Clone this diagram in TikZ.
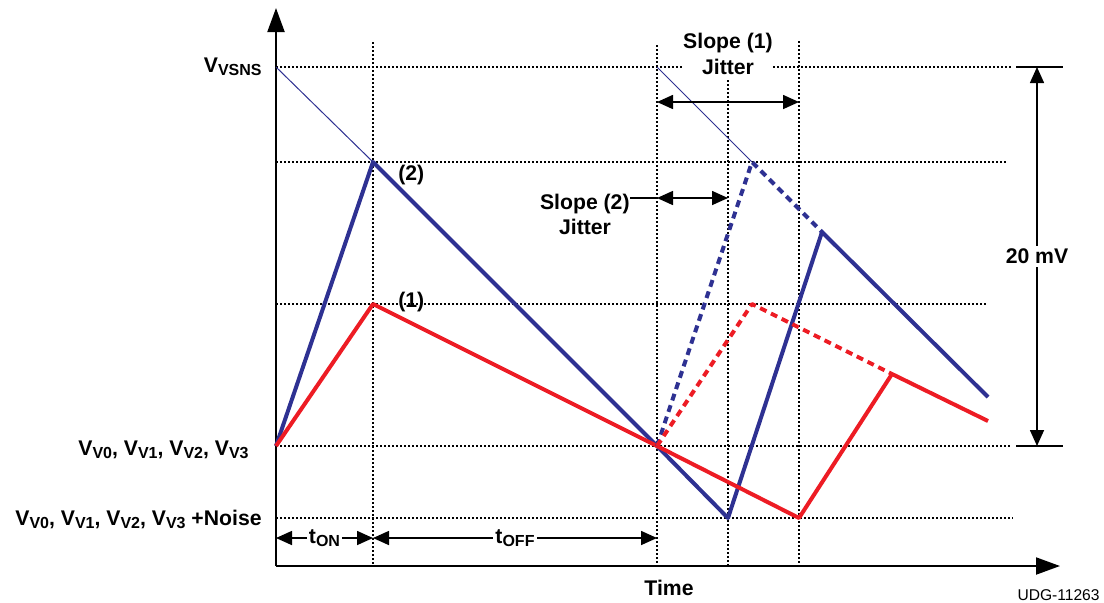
\documentclass[tikz,border=0pt]{standalone}
\usepackage{fontspec}
\setmainfont{Liberation Sans}
\usetikzlibrary{arrows.meta, positioning}
\definecolor{wblue}{RGB}{46,49,146}
\definecolor{wred}{RGB}{237,28,36}
\newcommand{\lo}[1]{\raisebox{-1.6pt}{\fontsize{8pt}{9pt}\selectfont #1}}

\begin{document}
\begin{tikzpicture}[x=0.5pt, y=-0.5pt, font=\fontsize{10.6pt}{12pt}\selectfont\bfseries]

  % styles
  \tikzstyle{gridline} = [black, line width=1.2pt, dash pattern=on 1pt off 1pt]
  \tikzstyle{axis} = [black, line width=1pt, -{Triangle[length=12pt,width=8.5pt]}]
  \tikzstyle{dim} = [black, line width=0.8pt, {Triangle[length=8pt,width=7pt]}-{Triangle[length=8pt,width=7pt]}]
  \tikzstyle{ext} = [black, line width=0.8pt]
  \tikzstyle{wave} = [line width=2pt, line join=round]
  \tikzstyle{jump} = [line width=2pt, line join=round, dash pattern=on 3.5pt off 2.5pt]
  \tikzstyle{lbl} = [inner sep=0pt]

  \useasboundingbox (0,0) rectangle (1104,602);

  % key points
  \coordinate (org) at (276,566);
  \coordinate (vs) at (276,67);
  \coordinate (v0) at (276,446);
  \coordinate (pk2) at (373,162);
  \coordinate (pk1) at (373,304);
  \coordinate (vv) at (657,446);
  \coordinate (vs2) at (657,67);
  \coordinate (bmin) at (728,518);
  \coordinate (rmin) at (799,518);
  \coordinate (bpk) at (752,162);
  \coordinate (rpk) at (752,304);
  \coordinate (bre) at (822,232);
  \coordinate (rre) at (892,374);
  \coordinate (bend) at (988,397);
  \coordinate (rend) at (988,421);

  % grid
  \draw [gridline] (276,67) -- (682,67);
  \draw [gridline] (773,67) -- (1013,67);
  \draw [gridline] (276,162) -- (1007,162);
  \draw [gridline] (276,304) -- (987,304);
  \draw [gridline] (276,446) -- (1012,446);
  \draw [gridline] (276,518) -- (1013,518);
  \draw [gridline] (373,42) -- (373,566);
  \draw [gridline] (657,45) -- (657,566);
  \draw [gridline] (728,80) -- (728,566);
  \draw [gridline] (799,41) -- (799,566);

  % axes
  \draw [axis] (org) -- (276,8);
  \draw [axis] (org) -- (1060,566);

  % waveforms
  \draw [wblue, line width=0.5pt] (vs) -- (pk2);
  \draw [wblue, line width=0.5pt] (vs2) -- (bpk);
  \draw [wave, wblue] (v0) -- (pk2) -- (vv) -- (bmin) -- (bre) -- (bend);
  \draw [wave, wred] (v0) -- (pk1) -- (vv) -- (rmin) -- (rre) -- (rend);
  \draw [jump, wblue] (vv) -- (bpk) -- (bre);
  \draw [jump, wred] (vv) -- (rpk) -- (rre);

  % labels
  \node (lvs) [lbl, anchor=base east] at (262,72) {V\lo{VSNS}};
  \node (lv0) [lbl, anchor=base east] at (249,455) {V\lo{V0}, V\lo{V1}, V\lo{V2}, V\lo{V3}};
  \node (lvn) [lbl, anchor=base east] at (262,525) {V\lo{V0}, V\lo{V1}, V\lo{V2}, V\lo{V3} +Noise};
  \node (l2) [lbl, anchor=base west] at (398,180) {(2)};
  \node (l1) [lbl, anchor=base west] at (398,307) {(1)};
  \node (time) [lbl, anchor=base] at (669,595) {Time};
  \node (udg) [lbl, anchor=base east, font=\fontsize{7.8pt}{9pt}\selectfont] at (1100,600) {UDG-11263};

  % slope (1) jitter
  \node (s1a) [lbl, anchor=base] at (728,48) {Slope (1)};
  \node (s1b) [lbl, anchor=base] at (728,74) {Jitter};
  \draw [dim] (657,102) -- (799,102);

  % slope (2) jitter
  \node (s2a) [lbl, anchor=base east] at (630,209) {Slope (2)};
  \node (s2b) [lbl, anchor=base] at (585,234) {Jitter};
  \coordinate (s2l) at (657,198);
  \draw [ext] (s2a.east |- s2l) -- (s2l);
  \draw [dim] (s2l) -- (728,198);

  % ton / toff
  \draw [dim] (276,538) -- node (ton) [fill=white, inner sep=1pt] {t\lo{ON}} (373,538);
  \draw [dim] (373,538) -- node (toff) [fill=white, inner sep=1pt] {t\lo{OFF}} (657,538);

  % 20 mV
  \draw [ext] (1016,67) -- (1063,67);
  \draw [ext] (1016,446) -- (1063,446);
  \draw [dim] (1037,67) -- node (mv) [fill=white, inner sep=1.5pt] {20 mV} (1037,446);

\end{tikzpicture}
\end{document}
